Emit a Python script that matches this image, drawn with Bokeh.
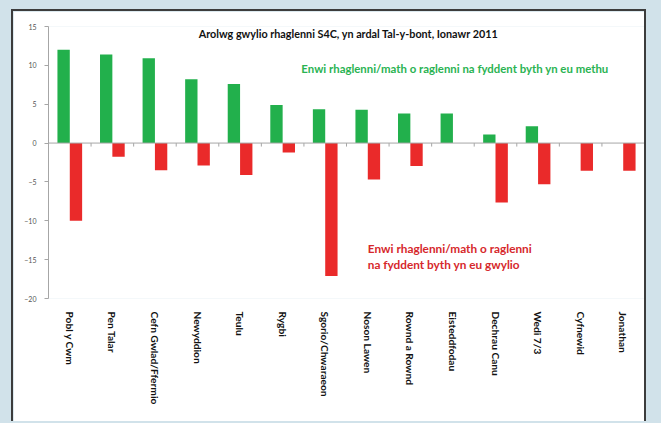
from bokeh.plotting import figure
from bokeh.models import ColumnDataSource, FactorRange, Span, Label, Range1d, FixedTicker
from bokeh.transform import dodge
from bokeh.embed import file_html
from bokeh.resources import INLINE

categories = ["Pobl y Cwm", "Pen Talar", "Cefn Gwlad/Ffermio", "Newyddion", "Teulu", "Rygbi",
              "Sgorio/Chwaraeon", "Noson Lawen", "Rownd a Rownd", "Eisteddfodau", "Dechrau Canu",
              "Wedi 7/3", "Cyfnewid", "Jonathan"]
never_miss = [12.0, 11.4, 10.9, 8.2, 7.6, 4.9, 4.35, 4.3, 3.8, 3.8, 1.1, 2.15, 0, 0]
never_watch = [-10.0, -1.75, -3.5, -2.9, -4.1, -1.2, -17.1, -4.7, -2.95, 0, -7.65, -5.3, -3.55, -3.55]
y_ticks = [-20, -15, -10, -5, 0, 5, 10, 15]

title_text = "Arolwg gwylio rhaglenni S4C, yn ardal Tal-y-bont, Ionawr 2011"
green_text = "Enwi rhaglenni/math o raglenni na fyddent byth yn eu methu"
red_text_1 = "Enwi rhaglenni/math o raglenni"
red_text_2 = "na fyddent byth yn eu gwylio"

GREEN = "#22b04c"
RED = "#ea2a2a"
BG = "#d1e2ea"

src = ColumnDataSource(dict(cat=categories, pos=never_miss, neg=never_watch))

p = figure(x_range=FactorRange(*categories, range_padding=0), y_range=Range1d(-20, 15),
           width=635, height=412, output_backend="svg", toolbar_location=None,
           min_border_left=35, min_border_right=4, min_border_top=15, min_border_bottom=125,
           background_fill_color="white", border_fill_color="white", outline_line_color=None,
           margin=(9, 11, 0, 11),
           styles={"border-left": "2px solid #3c3c3c", "border-right": "2px solid #3c3c3c",
                   "border-top": "2px solid #3c3c3c"})

p.vbar(x=dodge("cat", -0.145, range=p.x_range), top="pos", bottom=0, width=0.29,
       source=src, fill_color=GREEN, line_color=None)
p.vbar(x=dodge("cat", 0.145, range=p.x_range), top="neg", bottom=0, width=0.29,
       source=src, fill_color=RED, line_color=None)

# zero line with small ticks between categories
p.add_layout(Span(location=0, dimension="width", line_color="#a6a6a6", line_width=1))
bounds = list(range(1, len(categories) + 1))
p.segment(x0=bounds, x1=bounds, y0=[0] * len(bounds), y1=[-0.45] * len(bounds),
          line_color="#a6a6a6", line_width=1)

p.xgrid.visible = False
p.ygrid.visible = False

xa = p.xaxis[0]
xa.axis_line_color = None
xa.major_tick_line_color = None
xa.minor_tick_line_color = None
xa.major_tick_out = 0
xa.major_tick_in = 0
xa.major_label_orientation = "vertical"
xa.major_label_text_font = "Lato"
xa.major_label_text_font_style = "bold"
xa.major_label_text_font_size = "10.2px"
xa.major_label_text_color = "#111111"
xa.major_label_standoff = 13

ya = p.yaxis[0]
ya.ticker = FixedTicker(ticks=y_ticks)
ya.axis_line_color = "#a6a6a6"
ya.major_tick_line_color = "#a6a6a6"
ya.major_tick_out = 4
ya.major_tick_in = 0
ya.minor_tick_line_color = None
ya.major_label_text_font = "Lato"
ya.major_label_text_font_size = "7px"
ya.major_label_text_color = "#555555"
ya.major_label_standoff = 8

p.add_layout(Label(x=7.05, y=14.1, text=title_text, text_align="center", text_baseline="middle",
                   text_font="Lato", text_font_style="bold", text_font_size="10.8px",
                   text_color="#111111"))
p.add_layout(Label(x=5.94, y=9.6, text=green_text, text_align="left", text_baseline="middle",
                   text_font="Lato", text_font_style="bold", text_font_size="11.4px",
                   text_color="#2ab352"))
p.add_layout(Label(x=7.5, y=-13.6, text=red_text_1, text_align="left", text_baseline="middle",
                   text_font="Lato", text_font_style="bold", text_font_size="11.8px",
                   text_color="#d6282c"))
p.add_layout(Label(x=7.5, y=-15.65, text=red_text_2, text_align="left", text_baseline="middle",
                   text_font="Lato", text_font_style="bold", text_font_size="11.8px",
                   text_color="#d6282c"))

html = file_html(p, INLINE)
html = html.replace("</head>", "<style>html,body{background:%s;overflow:hidden}</style></head>" % BG, 1)
open("out.html", "w").write(html)
